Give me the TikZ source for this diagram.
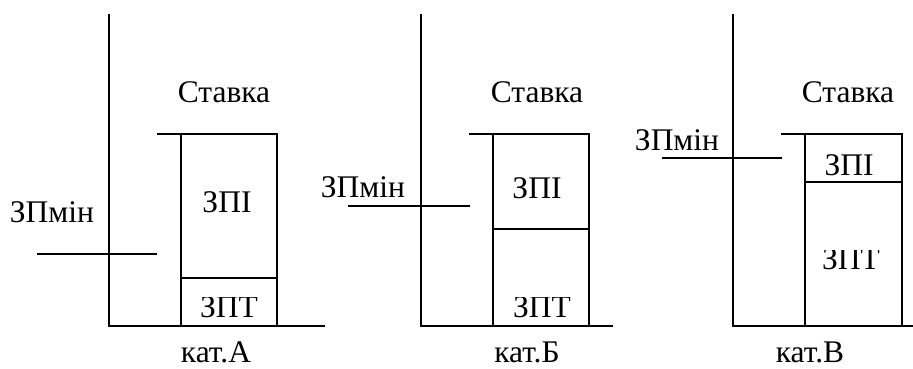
\documentclass[tikz,border=0pt]{standalone}
\usepackage{fontspec}
\setmainfont{Liberation Serif}
\begin{document}
\begin{tikzpicture}[x=1pt,y=-1pt,line width=1.5pt,
  lbl/.style={inner sep=0pt,anchor=base,font=\fontsize{31.5}{31.5}\selectfont}]
\useasboundingbox (0,0) rectangle (913,368);

% ---------- panel A ----------
\coordinate (aTop) at (109,14);
\coordinate (aO) at (109,326);
\coordinate (aEnd) at (325,326);
\draw (aTop) -- (aO) -- (aEnd);
\coordinate (aBL) at (181,326);
\coordinate (aBR) at (277,326);
\coordinate (aTL) at (181,134);
\coordinate (aTR) at (277,134);
\coordinate (aTx) at (157,134);
\draw (aBL) -- (aTL);
\draw (aTx) -- (aTR) -- (aBR);
\coordinate (aDL) at (181,278);
\coordinate (aDR) at (277,278);
\draw (aDL) -- (aDR);
\coordinate (aM1) at (37,254);
\coordinate (aM2) at (157,254);
\draw (aM1) -- (aM2);
\node[lbl] (aMin) at (52,222) {ЗПмін};
\node[lbl] (aSt) at (224,102) {Ставка};
\node[lbl] (aZPI) at (227,212) {ЗПІ};
\begin{scope}
  \clip (181,297) rectangle (277,326);
  \node[lbl] (aZPT) at (229,317) {ЗПТ};
\end{scope}
\node[lbl] (aKat) at (216,362) {кат.А};

% ---------- panel B ----------
\coordinate (bTop) at (421,14);
\coordinate (bO) at (421,326);
\coordinate (bEnd) at (613,326);
\draw (bTop) -- (bO) -- (bEnd);
\coordinate (bBL) at (493,326);
\coordinate (bBR) at (589,326);
\coordinate (bTL) at (493,134);
\coordinate (bTR) at (589,134);
\coordinate (bTx) at (469,134);
\draw (bBL) -- (bTL);
\draw (bTx) -- (bTR) -- (bBR);
\coordinate (bDL) at (493,229);
\coordinate (bDR) at (589,229);
\draw (bDL) -- (bDR);
\coordinate (bM1) at (348,206);
\coordinate (bM2) at (470,206);
\draw (bM1) -- (bM2);
\node[lbl] (bMin) at (363,197) {ЗПмін};
\node[lbl] (bSt) at (537,102) {Ставка};
\node[lbl] (bZPI) at (537,198) {ЗПІ};
\begin{scope}
  \clip (493,297) rectangle (589,326);
  \node[lbl] (bZPT) at (542,317) {ЗПТ};
\end{scope}
\node[lbl] (bKat) at (527,362) {кат.Б};

% ---------- panel C ----------
\coordinate (cTop) at (733,14);
\coordinate (cO) at (733,326);
\coordinate (cEnd) at (913,326);
\draw (cTop) -- (cO) -- (cEnd);
\coordinate (cBL) at (805,326);
\coordinate (cBR) at (902,326);
\coordinate (cTL) at (805,134);
\coordinate (cTR) at (902,134);
\coordinate (cTx) at (781,134);
\draw (cBL) -- (cTL);
\draw (cTx) -- (cTR) -- (cBR);
\coordinate (cDL) at (805,182);
\coordinate (cDR) at (902,182);
\draw (cDL) -- (cDR);
\coordinate (cM1) at (662,158);
\coordinate (cM2) at (782,158);
\draw (cM1) -- (cM2);
\node[lbl] (cMin) at (677,150) {ЗПмін};
\node[lbl] (cSt) at (848,102) {Ставка};
\node[lbl] (cZPI) at (849,175) {ЗПІ};
\begin{scope}
  \clip (805,250) rectangle (902,326);
  \node[lbl] (cZPT) at (851,269) {ЗПТ};
\end{scope}
\node[lbl] (cKat) at (810,362) {кат.В};
\end{tikzpicture}
\end{document}
